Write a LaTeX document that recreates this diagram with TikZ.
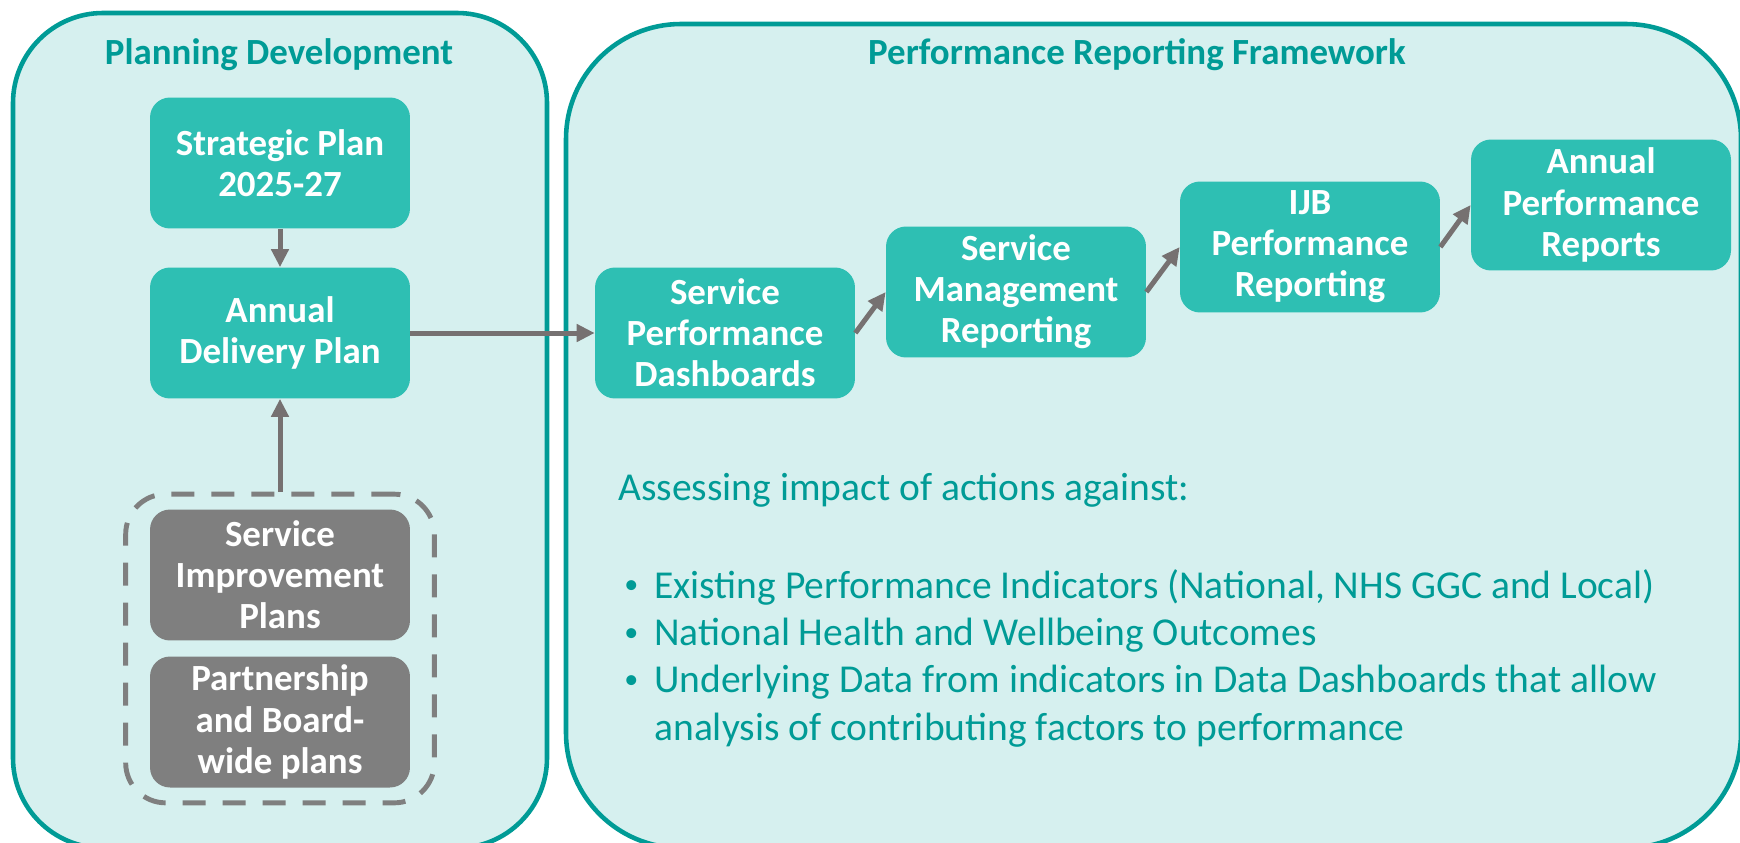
\documentclass[tikz,border=0pt]{standalone}
\usepackage{fontspec}
\setmainfont{Carlito}
\definecolor{pdteal}{RGB}{0,155,150}
\definecolor{pdlight}{RGB}{214,240,239}
\definecolor{pdbox}{RGB}{46,191,179}
\definecolor{pdgrey}{RGB}{127,127,127}
\definecolor{pdarrow}{RGB}{118,113,113}
\usetikzlibrary{arrows.meta, positioning, fit}

\begin{document}
\begin{tikzpicture}[x=0.02cm, y=-0.02cm,
    panel/.style={draw=pdteal, fill=pdlight, line width=2.6pt},
    flowbox/.style={fill=pdbox, rounded corners=0.4cm, minimum width=5.2cm,
      minimum height=2.62cm, inner sep=0pt, align=center, text=white,
      font=\fontsize{21}{23.4}\selectfont\bfseries},
    planbox/.style={flowbox, fill=pdgrey},
    plangroup/.style={draw=pdgrey, line width=2.8pt, rounded corners=0.8cm,
      dash pattern=on 0.46cm off 0.34cm, inner xsep=0.48cm, inner ysep=0.3cm},
    heading/.style={text=pdteal, font=\fontsize{21}{24}\selectfont\bfseries},
    bodytext/.style={text=pdteal, font=\fontsize{22.5}{27.3}\selectfont,
      align=left, anchor=west, inner sep=0pt},
    link/.style={-{Triangle[length=0.36cm, width=0.34cm]}, draw=pdarrow,
      line width=2.85pt}]
  \useasboundingbox (0,0) rectangle (1740,842);

  % Two panels
  \draw[panel, rounded corners=1.8cm] (13,13) rectangle (547,848);
  \draw[panel, rounded corners=2.3cm] (566,24) rectangle (1741,848);
  \node[heading] (plantitle) at (279,55) {Planning Development};
  \node[heading] (perftitle) at (1137,55) {Performance Reporting Framework};

  % Planning side
  \node[flowbox] (strat) at (280,163) {Strategic Plan\\2025-27};
  \node[flowbox] (adp) at (280,333) {Annual\\Delivery Plan};
  \node[planbox] (sip) at (280,575) {Service\\Improvement\\Plans};
  \node[planbox] (pbw) at (280,722) {Partnership\\and Board-\\wide plans};
  \node[plangroup, fit=(sip)(pbw)] (plans) {};
  \draw[link] (strat) -- (adp);
  \draw[link] (plans) -- (adp);

  % Reporting chain
  \node[flowbox] (spd) at (725,333) {Service\\Performance\\Dashboards};
  \node[flowbox] (smr) at (1016,292) {Service\\Management\\Reporting};
  \node[flowbox] (ijb) at (1310,247) {IJB\\Performance\\Reporting};
  \node[flowbox] (apr) at (1601,205) {Annual\\Performance\\Reports};
  \draw[link] (adp) -- (spd);
  \draw[link] (spd.east) -- (smr.west);
  \draw[link] (smr.east) -- (ijb.west);
  \draw[link] (ijb.east) -- (apr.west);

  % Assessment list
  \node[bodytext] (assess) at (618,490) {Assessing impact of actions against:};
  \node[bodytext] (item1) at (654,587)
    {Existing Performance Indicators (National, NHS GGC and Local)};
  \node[bodytext] (item2) at (654,635) {National Health and Wellbeing Outcomes};
  \node[bodytext] (item3) at (654,706)
    {Underlying Data from indicators in Data Dashboards that allow\\analysis of contributing factors to performance};
  \foreach \i/\ypos in {1/587, 2/635, 3/682}
    \node[bodytext, font=\fontsize{16}{18}\selectfont] (dot\i) at (624,\ypos) {•};
\end{tikzpicture}
\end{document}
